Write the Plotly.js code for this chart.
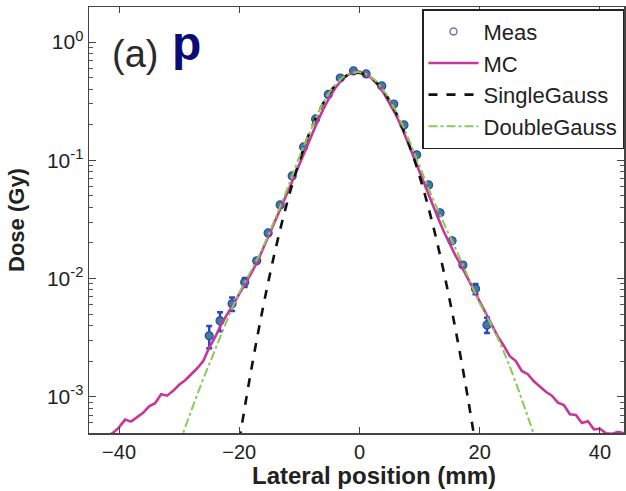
<!DOCTYPE html>
<html>
<head>
<meta charset="utf-8">
<script src="https://cdn.plot.ly/plotly-3.0.1.min.js"></script>
<style>html,body{margin:0;padding:0;background:#fff;}#chart{width:626px;height:491px;}</style>
</head>
<body>
<div id="chart"></div>
<script>
// ---- Data ----
const measX = [-25.0,-23.2,-21.2,-19.1,-17.1,-15.2,-13.2,-11.2,-9.3,-7.3,-5.2,-3.2,-1.0,1.1,3.7,5.7,7.4,9.5,11.5,13.4,15.4,17.2,19.3,21.2];
const measY = [0.00327,0.00438,0.0061,0.00927,0.0141,0.0243,0.0419,0.0736,0.1295,0.2234,0.36,0.496,0.569,0.537,0.425,0.299,0.199,0.111,0.0618,0.0359,0.0208,0.0130,0.00817,0.00405];
const measErr = [0.0007,0.0008,0.0008,0.0008,0,0,0,0,0,0,0,0,0,0,0,0,0,0,0,0,0,0,0.0008,0.0006];

const mcX = [-45,-44,-43,-42,-41,-40,-39,-38,-37,-36,-35,-34,-33,-32,-31,-30,-29,-28,-27,-26,-25,-24,-23,-22,-21,-20,-19,-18,-17,-16,-15,-14,-13,-12,-11,-10,-9,-8,-7,-6,-5,-4,-3,-2,-1,0,1,2,3,4,5,6,7,8,9,10,11,12,13,14,15,16,17,18,19,20,21,22,23,24,25,26,27,28,29,30,31,32,33,34,35,36,37,38,39,40,41,42,43,44];
const mcY = [0.000389,0.000417,0.000440,0.000462,0.000495,0.000550,0.00064,0.000615,0.000676,0.000730,0.000830,0.000880,0.00105,0.00102,0.00112,0.00126,0.00138,0.00155,0.00174,0.00200,0.00260,0.00320,0.00410,0.00500,0.00600,0.00740,0.00900,0.0111,0.0138,0.0180,0.0232,0.0305,0.0400,0.0530,0.0700,0.0930,0.123,0.163,0.212,0.272,0.340,0.410,0.475,0.525,0.553,0.562,0.537,0.495,0.437,0.372,0.305,0.245,0.191,0.145,0.107,0.0794,0.0589,0.0437,0.0331,0.0251,0.0195,0.0155,0.0126,0.0100,0.00794,0.00631,0.00501,0.00398,0.00324,0.00270,0.00220,0.00200,0.00165,0.00155,0.00135,0.00122,0.00110,0.00102,0.000891,0.000850,0.000710,0.000700,0.000600,0.000620,0.000530,0.000535,0.000490,0.000485,0.000505,0.000490];

const sgX = [-20,-18,-16,-14,-12,-10,-8,-6,-4,-2,0,2,4,6,8,10,12,14,16,18,20];
const sgY = [0.000425,0.00170,0.00586,0.01744,0.0447,0.0984,0.187,0.306,0.432,0.524,0.548,0.494,0.383,0.256,0.147,0.0731,0.0312,0.0115,0.00364,0.000993,0.000234];

const dgX = [-30,-28,-26,-24,-22,-20,-18,-16,-14,-12,-10,-8,-6,-4,-2,0,2,4,6,8,10,12,14,16,18,20,22,24,26,28,30];
const dgY = [0.000398,0.000759,0.00141,0.00251,0.00447,0.00759,0.0117,0.0186,0.0324,0.0575,0.107,0.186,0.309,0.436,0.531,0.556,0.501,0.389,0.263,0.158,0.0891,0.0501,0.0295,0.0178,0.0105,0.00617,0.00398,0.00240,0.00132,0.000676,0.000347];

const xTicks = [-40,-20,0,20,40];
const yTicks = [0.001,0.01,0.1,1];
const yTickText = ['10<sup>-3</sup>','10<sup>-2</sup>','10<sup>-1</sup>','10<sup>0</sup>'];
const seriesNames = ['Meas','MC','SingleGauss','DoubleGauss'];
const xTitle = 'Lateral position (mm)';
const yTitle = 'Dose (Gy)';

// minor log ticks (2..9 per decade)
const minorVals = [];
[0.0001,0.001,0.01,0.1,1].forEach(d => { for (let k=2;k<=9;k++) minorVals.push(d*k); });

const font = 'Liberation Sans, Arial, Helvetica, sans-serif';

const traces = [
  {x: measX, y: measY, type:'scatter', mode:'markers', showlegend:false,
   marker:{symbol:'circle', size:8, color:'#3d7e99', line:{color:'#2f46a8', width:1.2}},
   error_y:{type:'data', array: measErr, visible:true, color:'#2f46c8', thickness:2.5, width:3}},
  {x:[null], y:[null], type:'scatter', mode:'markers', name: seriesNames[0],
   marker:{symbol:'circle-open', size:7, color:'#6c7f9c', line:{width:1.5}}},
  {x: mcX, y: mcY, type:'scatter', mode:'lines', name: seriesNames[1],
   line:{color:'#c8359b', width:2.6}},
  {x: sgX, y: sgY, type:'scatter', mode:'lines', name: seriesNames[2],
   line:{color:'#111111', width:2.6, dash:'dash', shape:'spline'}},
  {x: dgX, y: dgY, type:'scatter', mode:'lines', name: seriesNames[3],
   line:{color:'#86cc55', width:2, dash:'dashdot', shape:'spline'}}
];

const layout = {
  width:626, height:491,
  margin:{l:89, r:2, t:7, b:58},
  paper_bgcolor:'#ffffff', plot_bgcolor:'#ffffff',
  font:{family:font, color:'#222'},
  xaxis:{
    range:[-45,44], tickvals:xTicks, ticks:'inside', ticklen:6, tickcolor:'#444',
    showline:true, linecolor:'#444', linewidth:1.5, mirror:'ticks', showgrid:false, zeroline:false,
    tickfont:{size:20, family:font, color:'#222'}
  },
  yaxis:{
    type:'log', range:[-3.307,0.296], tickmode:'array', tickvals:yTicks, ticktext:yTickText,
    ticks:'inside', ticklen:7, tickcolor:'#444',
    showline:true, linecolor:'#444', linewidth:1.5, mirror:'ticks', showgrid:false, zeroline:false,
    tickfont:{size:21, family:font, color:'#222'},
    minor:{tickmode:'array', tickvals:minorVals, ticks:'inside', ticklen:4, tickcolor:'#555', showgrid:false},
    title:{text:'<b>' + yTitle + '</b>', font:{size:22, family:font, color:'#222'}, standoff:16}
  },
  legend:{
    x:1, xanchor:'right', y:0.995, yanchor:'top',
    bgcolor:'#ffffff', bordercolor:'#222', borderwidth:1.5,
    font:{size:22, family:font, color:'#222'},
    tracegroupgap:0, itemwidth:50
  },
  annotations:[
    {text:'<b>' + xTitle + '</b>', xref:'paper', yref:'paper', x:0.532, y:-0.099, xanchor:'center', yanchor:'middle',
     showarrow:false, font:{size:24, family:font, color:'#222'}},
    {text:'(a)', xref:'paper', yref:'paper', x:0.039, y:0.890, xanchor:'left', yanchor:'middle',
     showarrow:false, font:{size:38, family:font, color:'#2a2a2a'}},
    {text:'<b>p</b>', xref:'paper', yref:'paper', x:0.152, y:0.915, xanchor:'left', yanchor:'middle',
     showarrow:false, font:{size:48, family:font, color:'#0b0b78'}}
  ]
};

Plotly.newPlot('chart', traces, layout, {displayModeBar:false, staticPlot:true});
</script>
</body>
</html>
